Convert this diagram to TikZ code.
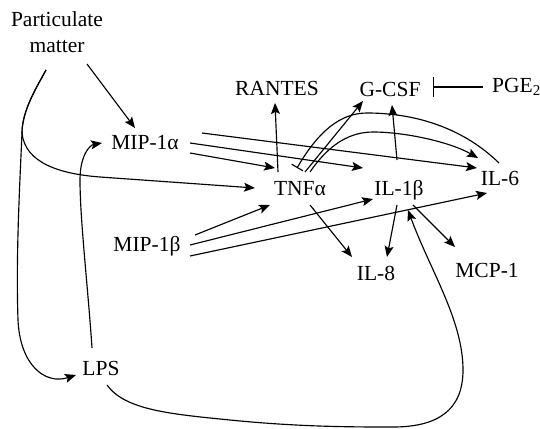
\documentclass[tikz,border=0pt]{standalone}
\usepackage{fontspec}
\setmainfont{Liberation Serif}
\usetikzlibrary{calc,arrows.meta}
\begin{document}
\begin{tikzpicture}[x=1pt,y=-1pt,
  lab/.style={inner sep=0pt,text height=14pt,text depth=0pt,font=\fontsize{21.5}{26}\selectfont},
  conn/.style={line width=1.15pt},
  arr/.style={conn,-{Stealth[length=11pt,width=9pt,inset=2.2pt]}},
  inhsmall/.style={conn,-{Bar[width=13pt,line width=1.15pt]}},
  inhbig/.style={conn,-{Bar[width=20pt,line width=1.15pt]}}]
\useasboundingbox (0,0) rectangle (540,428);

% nodes
\node[inner sep=0pt,align=center,font=\fontsize{21.5}{26}\selectfont] (pm) at (57,32) {Particulate\\matter};
\node[lab] (mipa) at (145,142) {MIP-1α};
\node[lab] (mipb) at (147,244) {MIP-1β};
\node[lab] (lps) at (101,368) {LPS};
\node[lab] (rantes) at (277,88) {RANTES};
\node[lab] (gcsf) at (390,89) {G-CSF};
\node[lab,anchor=west] (pge) at (492,85) {PGE\textsubscript{2}};
\node[lab] (tnf) at (300,188) {TNFα};
\node[lab] (il1b) at (399,188) {IL-1β};
\node[lab] (il6) at (500,178) {IL-6};
\node[lab] (il8) at (376,273) {IL-8};
\node[lab] (mcp) at (487,270) {MCP-1};

\coordinate (split) at (22,133);

% particulate matter
\draw[arr] ($(pm)+(30,32)$) -- ($(mipa)+(-10,-14)$);
\draw[arr] ($(pm)+(-11,38)$) .. controls +(-8,15) and +(0,-23) .. (split)
  .. controls +(3,30) and +(-40,-3) .. (100,177) -- ($(tnf)+(-45,0)$);
\draw[arr] ($(pm)+(-11,38)$) .. controls +(-8,15) and +(0,-23) .. (split)
  .. controls (19,200) and (16,260) .. (18,320)
  .. controls (20,365) and (45,385) .. ($(lps)+(-25,7)$);

% LPS
\draw[arr] ($(lps)+(-9,-20)$) .. controls +(-4,-60) and +(0,40) .. (80,180)
  .. controls +(0,-25) and +(-12,2) .. ($(mipa)+(-43,1)$);
\draw[arr] ($(lps)+(6,17)$) .. controls +(18,25) and +(-60,-6) .. (230,420)
  .. controls +(70,7) and +(-40,0) .. (393,427)
  .. controls +(45,0) and +(0,40) .. (463,370)
  .. controls +(0,-50) and +(22,60) .. ($(il1b)+(9,22)$);

% MIP-1alpha
\draw[arr] ($(mipa)+(45,11)$) -- ($(tnf)+(-25,-20)$);
\draw[arr] ($(mipa)+(45,1)$) -- ($(il1b)+(-36,-20)$);
\draw[arr] ($(mipa)+(57,-9)$) -- ($(il6)+(-23,-10)$);

% MIP-1beta
\draw[arr] ($(mipb)+(48,-9)$) -- ($(tnf)+(-30,17)$);
\draw[arr] ($(mipb)+(43,1)$) -- ($(il1b)+(-26,11)$);
\draw[arr] ($(mipb)+(43,12)$) -- ($(il6)+(-13,15)$);

% TNF-alpha
\draw[arr] ($(tnf)+(-22,-16)$) -- ($(rantes)+(-2,15)$);
\draw[arr] ($(tnf)+(5,-16)$) -- ($(gcsf)+(-27,12)$);
\draw[arr] ($(tnf)+(10,-16)$) .. controls +(15,-22) and +(-28,0) .. (373,132)
  .. controls +(32,0) and +(-28,-16) .. ($(il6)+(-22,-20)$);
\draw[arr] ($(tnf)+(10,17)$) -- ($(il8)+(-24,-16)$);
\draw[inhsmall] ($(il6)+(-1,-15)$) .. controls +(-39,-38) and +(43,0) .. (367,113)
  .. controls +(-27,0) and +(21,-36) .. ($(tnf)+(-3,-20)$);

% IL-1beta
\draw[arr] ($(il1b)+(-2,-28)$) -- ($(gcsf)+(2,16)$);
\draw[arr] ($(il1b)+(-2,17)$) -- ($(il8)+(11,-16)$);
\draw[arr] ($(il1b)+(14,17)$) -- ($(mcp)+(-32,-23)$);

% PGE2
\draw[inhbig] ($(pge.west)+(-9,2)$) -- ($(gcsf)+(43,-2)$);
\end{tikzpicture}
\end{document}
